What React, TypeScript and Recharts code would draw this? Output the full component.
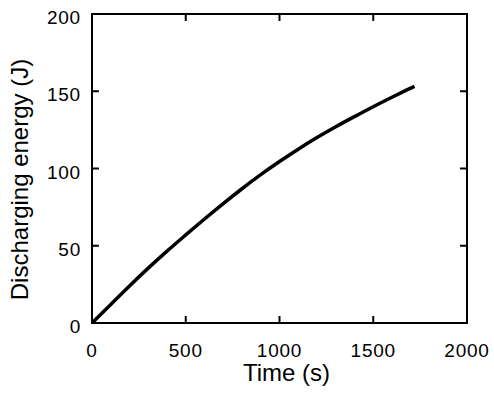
import { LineChart, Line, XAxis, YAxis, ReferenceArea, ReferenceLine } from 'recharts'

const FONT = '"Liberation Sans", Arial, Helvetica, sans-serif'

const timeS = [0, 100, 200, 300, 400, 500, 600, 700, 800, 900, 1000, 1100, 1200, 1300, 1400, 1500, 1600, 1700, 1720]
const energyJ = [0, 12, 24, 35.5, 46.5, 57, 67.3, 77.3, 86.9, 96, 104.5, 112.5, 120, 127, 133.6, 140, 146.1, 152, 153.1]

const xTicks = [0, 500, 1000, 1500, 2000]
const yTicks = [0, 50, 100, 150, 200]

const data = timeS.map((t, i) => ({ t, e: energyJ[i] }))

function XTick({ x, y, payload }: any) {
  return (
    <text x={x} y={y + 34} textAnchor="middle" fontSize={19} letterSpacing={0.8} fontFamily={FONT} fill="#000">
      {payload.value}
    </text>
  )
}

function YTick({ x, y, payload }: any) {
  return (
    <text x={x - 11} y={y + 10} textAnchor="end" fontSize={19} letterSpacing={0.8} fontFamily={FONT} fill="#000">
      {payload.value}
    </text>
  )
}

function XTitle({ viewBox }: any) {
  return (
    <text x={viewBox.x + viewBox.width / 2 + 7} y={viewBox.y + 58} textAnchor="middle" fontSize={24} fontFamily={FONT} fill="#000">
      Time (s)
    </text>
  )
}

function YTitle({ viewBox }: any) {
  const cy = viewBox.y + viewBox.height / 2 + 11
  return (
    <text x={28} y={cy} transform={`rotate(-90, 28, ${cy})`} textAnchor="middle" fontSize={24} fontFamily={FONT} fill="#000">
      Discharging energy (J)
    </text>
  )
}

export default function App() {
  return (
    <div style={{ position: 'absolute', left: 0, top: 0, background: '#fff' }}>
      <LineChart width={494} height={404} data={data} margin={{ top: 14, right: 27, bottom: 0, left: 0 }}>
        <XAxis
          dataKey="t"
          type="number"
          domain={[0, 2000]}
          ticks={xTicks}
          height={81}
          axisLine={false}
          tickLine={false}
          tickSize={0}
          tickMargin={0}
          tick={<XTick />}
          label={<XTitle />}
        />
        <YAxis
          type="number"
          domain={[0, 200]}
          ticks={yTicks}
          width={92}
          axisLine={false}
          tickLine={false}
          tickSize={0}
          tickMargin={0}
          tick={<YTick />}
          label={<YTitle />}
        />
        {xTicks.map((t) => (
          <ReferenceLine key={'xb' + t} segment={[{ x: t, y: 0 }, { x: t, y: 4.5 }]} stroke="#000" strokeWidth={2} />
        ))}
        {xTicks.map((t) => (
          <ReferenceLine key={'xt' + t} segment={[{ x: t, y: 195.5 }, { x: t, y: 200 }]} stroke="#000" strokeWidth={2} />
        ))}
        {yTicks.map((v) => (
          <ReferenceLine key={'yl' + v} segment={[{ x: 0, y: v }, { x: 37, y: v }]} stroke="#000" strokeWidth={2} />
        ))}
        {yTicks.map((v) => (
          <ReferenceLine key={'yr' + v} segment={[{ x: 1963, y: v }, { x: 2000, y: v }]} stroke="#000" strokeWidth={2} />
        ))}
        <ReferenceArea x1={0} x2={2000} y1={0} y2={200} fill="none" stroke="#000" strokeWidth={2} />
        <Line
          dataKey="e"
          type="monotone"
          stroke="#000"
          strokeWidth={3.5}
          dot={false}
          isAnimationActive={false}
        />
      </LineChart>
    </div>
  )
}
